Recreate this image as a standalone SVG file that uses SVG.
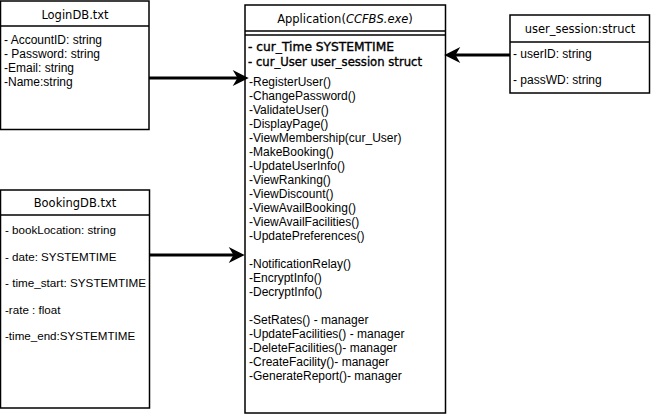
<svg xmlns="http://www.w3.org/2000/svg" width="651" height="419" viewBox="0 0 651 419">
  <style>
    .box { fill: #ffffff; stroke: #000000; stroke-width: 1.5; }
    .sep { stroke: #000000; stroke-width: 1.5; fill: none; }
    .head { font-family: "DejaVu Sans", "Liberation Sans", sans-serif; font-size: 11.5px; fill: #000; text-anchor: middle; }
    .attr { font-family: "DejaVu Sans", "Liberation Sans", sans-serif; font-size: 11.5px; fill: #000; stroke: #000; stroke-width: 0.35; }
    .item { font-family: "Liberation Sans", Arial, sans-serif; font-size: 12px; fill: #000; }
    .narrow { font-size: 11.6px; }
    .link { stroke: #000000; stroke-width: 3; fill: none; }
    .tip { stroke: #000000; stroke-width: 2.5; fill: #000; stroke-linejoin: miter; }
  </style>

  <rect x="0" y="0" width="651" height="419" fill="#ffffff"/>

  <g id="login-db">
    <rect class="box" x="0.5" y="1" width="148.5" height="128.5"/>
    <line class="sep" x1="0.5" y1="26" x2="149" y2="26"/>
    <text class="head" x="75" y="19">LoginDB.txt</text>
    <text class="item" x="4" y="44">- AccountID: string</text>
    <text class="item" x="4" y="58">- Password: string</text>
    <text class="item" x="4" y="72">-Email: string</text>
    <text class="item" x="4" y="86">-Name:string</text>
  </g>

  <g id="booking-db">
    <rect class="box" x="0.5" y="190" width="149" height="218"/>
    <line class="sep" x1="0.5" y1="215" x2="149.5" y2="215"/>
    <text class="head" x="75" y="207">BookingDB.txt</text>
    <text class="item narrow" x="5" y="234">- bookLocation: string</text>
    <text class="item narrow" x="5" y="261">- date: SYSTEMTIME</text>
    <text class="item narrow" x="5" y="287" textLength="141" lengthAdjust="spacingAndGlyphs">- time_start: SYSTEMTIME</text>
    <text class="item narrow" x="5" y="314">-rate : float</text>
    <text class="item narrow" x="5" y="340">-time_end:SYSTEMTIME</text>
  </g>

  <g id="application">
    <rect class="box" x="245" y="5" width="200.5" height="408"/>
    <line class="sep" x1="245" y1="31" x2="445.5" y2="31"/>
    <line class="sep" x1="245" y1="35" x2="445.5" y2="35"/>
    <text class="head" x="345" y="23">Application(<tspan font-style="italic">CCFBS.exe</tspan>)</text>
    <text class="attr" x="248" y="51" textLength="146" lengthAdjust="spacingAndGlyphs">- cur_Time SYSTEMTIME</text>
    <text class="attr" x="248" y="66" textLength="174" lengthAdjust="spacingAndGlyphs">- cur_User user_session struct</text>
    <text class="item" x="249" y="86">-RegisterUser()</text>
    <text class="item" x="249" y="100">-ChangePassword()</text>
    <text class="item" x="249" y="114">-ValidateUser()</text>
    <text class="item" x="249" y="128">-DisplayPage()</text>
    <text class="item" x="249" y="142">-ViewMembership(cur_User)</text>
    <text class="item" x="249" y="156">-MakeBooking()</text>
    <text class="item" x="249" y="170">-UpdateUserInfo()</text>
    <text class="item" x="249" y="184">-ViewRanking()</text>
    <text class="item" x="249" y="198">-ViewDiscount()</text>
    <text class="item" x="249" y="212">-ViewAvailBooking()</text>
    <text class="item" x="249" y="226">-ViewAvailFacilities()</text>
    <text class="item" x="249" y="240">-UpdatePreferences()</text>
    <text class="item" x="249" y="268">-NotificationRelay()</text>
    <text class="item" x="249" y="282">-EncryptInfo()</text>
    <text class="item" x="249" y="296">-DecryptInfo()</text>
    <text class="item" x="249" y="324">-SetRates() - manager</text>
    <text class="item" x="249" y="338">-UpdateFacilities() - manager</text>
    <text class="item" x="249" y="352">-DeleteFacilities()- manager</text>
    <text class="item" x="249" y="366">-CreateFacility()- manager</text>
    <text class="item" x="249" y="380">-GenerateReport()- manager</text>
  </g>

  <g id="user-session">
    <rect class="box" x="510" y="15" width="139.5" height="78"/>
    <line class="sep" x1="510" y1="42" x2="649.5" y2="42"/>
    <text class="head" x="580" y="33">user_session:struct</text>
    <text class="item" x="513" y="58">- userID: string</text>
    <text class="item" x="513" y="84">- passWD: string</text>
  </g>

  <g id="connectors">
    <line class="link" x1="149" y1="78" x2="240" y2="78"/>
    <path class="tip" d="M246,78 L236,73 L239,78 L236,83 Z"/>
    <line class="link" x1="150" y1="255" x2="236" y2="255"/>
    <path class="tip" d="M242,255 L232,250 L235,255 L232,260 Z"/>
    <line class="link" x1="510" y1="55" x2="452" y2="55"/>
    <path class="tip" d="M447,55 L457,50 L454,55 L457,60 Z"/>
  </g>
</svg>
